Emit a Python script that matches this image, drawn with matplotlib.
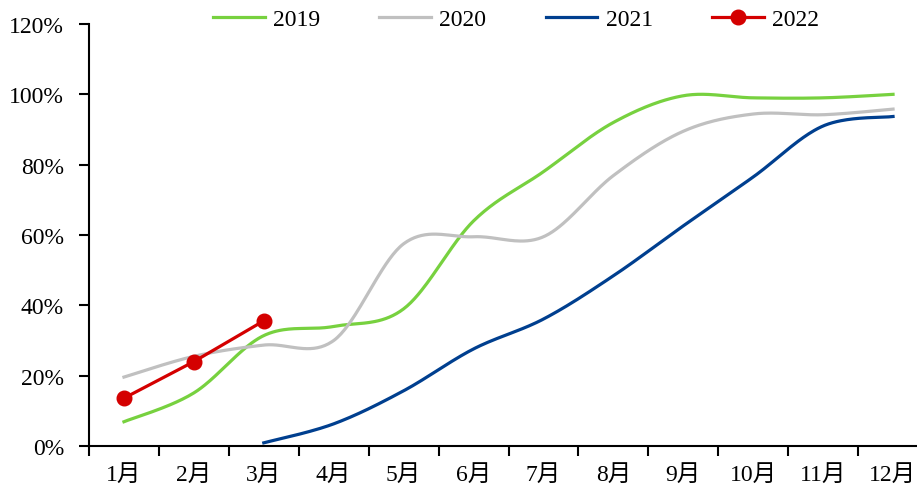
import numpy as np
import matplotlib
matplotlib.use("Agg")
import matplotlib.pyplot as plt
from matplotlib.ticker import FixedLocator, FuncFormatter

plt.rcParams['font.family'] = ['Liberation Serif', 'Noto Sans CJK SC', 'DejaVu Sans']

months = ['1月', '2月', '3月', '4月', '5月', '6月', '7月', '8月', '9月', '10月', '11月', '12月']
s2019 = [6.9, 15.1, 31.4, 34.0, 39.0, 64.0, 78.0, 92.0, 99.6, 99.0, 99.0, 100.0]
s2020 = [19.6, 25.5, 28.7, 30.0, 57.5, 59.5, 59.5, 76.9, 89.5, 94.4, 94.2, 95.8]
s2021 = [None, None, 0.9, 6.3, 15.7, 27.6, 36.1, 48.4, 62.6, 76.5, 91.0, 93.7]
s2022 = [13.6, 24.0, 35.6]
yticks = [0, 20, 40, 60, 80, 100, 120]

colors = {'2019': '#77D13F', '2020': '#C0C0C0', '2021': '#003F8F', '2022': '#D40000'}


def smooth(xs, ys, n=40):
    xs = np.asarray(xs, float)
    ys = np.asarray(ys, float)
    px = np.concatenate([[xs[0]], xs, [xs[-1]]])
    py = np.concatenate([[ys[0]], ys, [ys[-1]]])
    ox, oy = [], []
    t = np.linspace(0, 1, n)
    for i in range(1, len(px) - 2):
        p0x, p1x, p2x, p3x = px[i - 1], px[i], px[i + 1], px[i + 2]
        p0y, p1y, p2y, p3y = py[i - 1], py[i], py[i + 1], py[i + 2]
        c1x = p1x + (p2x - p0x) / 6
        c1y = p1y + (p2y - p0y) / 6
        c2x = p2x - (p3x - p1x) / 6
        c2y = p2y - (p3y - p1y) / 6
        bx = (1 - t) ** 3 * p1x + 3 * (1 - t) ** 2 * t * c1x + 3 * (1 - t) * t ** 2 * c2x + t ** 3 * p2x
        by = (1 - t) ** 3 * p1y + 3 * (1 - t) ** 2 * t * c1y + 3 * (1 - t) * t ** 2 * c2y + t ** 3 * p2y
        ox.extend(bx)
        oy.extend(by)
    return np.array(ox), np.array(oy)


fig = plt.figure(figsize=(9.17, 4.89), dpi=100)
ax = fig.add_axes([89 / 917, 42 / 489, (928 - 89) / 917, (447 - 25) / 489])

x = np.arange(1, 13)
lw = 2.3

for name, data in [('2019', s2019), ('2020', s2020), ('2021', s2021)]:
    xs = [xi for xi, v in zip(x, data) if v is not None]
    ys = [v for v in data if v is not None]
    sx, sy = smooth(xs, ys)
    ax.plot(sx, sy, color=colors[name], lw=lw, label=name, zorder=2)

ax.plot(x[:len(s2022)], s2022, color=colors['2022'], lw=lw, marker='o', markersize=10.5,
        label='2022', zorder=3)

ax.set_xlim(0.5, 12.5)
ax.set_ylim(0, 120)
ax.set_yticks(yticks)
ax.yaxis.set_major_formatter(FuncFormatter(lambda v, p: f"{int(v)}%"))

ax.xaxis.set_major_locator(FixedLocator(np.arange(0.5, 13, 1)))
ax.xaxis.set_major_formatter(FuncFormatter(lambda v, p: ""))
ax.xaxis.set_minor_locator(FixedLocator(x))
ax.set_xticks(x, months, minor=True)

for s in ['top', 'right']:
    ax.spines[s].set_visible(False)
for s in ['left', 'bottom']:
    ax.spines[s].set_linewidth(1.5)
    ax.spines[s].set_color('black')

ax.tick_params(axis='y', which='major', length=7, width=1.5, direction='out', pad=11, labelsize=17)
ax.tick_params(axis='x', which='major', length=7, width=1.5, direction='out')
ax.tick_params(axis='x', which='minor', length=0, pad=13, labelsize=17)

leg = fig.legend(loc='center', bbox_to_anchor=(516 / 917, 1 - 20 / 489), ncol=4, frameon=False,
                 fontsize=17, handlelength=2.2, handletextpad=0.35, columnspacing=2.5,
                 borderaxespad=0, borderpad=0)

fig.savefig('out.png', dpi=100)
